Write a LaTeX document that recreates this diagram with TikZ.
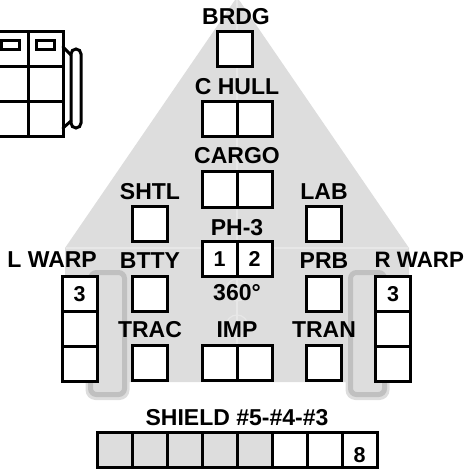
\documentclass[tikz,border=0pt]{standalone}
\usepackage{fontspec}
\setmainfont{Liberation Sans}
\definecolor{bg}{RGB}{221,221,221}
\definecolor{bgline}{RGB}{231,231,231}
\definecolor{trk}{RGB}{192,192,192}
\begin{document}
\begin{tikzpicture}[x=1pt,y=-1pt,
  cell/.style={draw=black,line width=3pt,fill=white,minimum width=35pt,minimum height=35pt,inner sep=0pt,outer sep=0pt},
  gcell/.style={cell,fill=bg},
  lbl/.style={font=\fontsize{23}{25}\selectfont\bfseries,inner sep=0pt,anchor=base},
  dig/.style={font=\fontsize{21.5}{22}\selectfont\bfseries,inner sep=0pt,anchor=base},
  track/.style={draw=trk,line width=5pt,fill=bg,rounded corners=6pt},
  halo/.style={fill=bg,rounded corners=10pt},
  icon/.style={draw=black,line width=3pt}]
\path[use as bounding box,clip] (0,0) rectangle (466,470);
% background hull
\fill[bg] (237,-3) -- (409,248) -- (409,382) -- (65,382) -- (65,248) -- cycle;
\draw[bgline,line width=1.5pt] (237,0) -- (237,382);
\draw[bgline,line width=1.5pt] (66,248) -- (408,248);
\draw[bgline,line width=1.2pt] (237,290) circle (11);
\draw[bgline,line width=1.2pt] (237,326) circle (11);
% warp tracks
\fill[halo] (85.5,267.5) rectangle (129.5,400);
\draw[track] (90.5,272.5) rectangle (124.5,394.5);
\fill[halo] (345.5,267.5) rectangle (389.5,400);
\draw[track] (350.5,272.5) rectangle (384.5,394.5);
% top-left icon
\node[cell] (i1) at (10.5,49.5) {};
\node[cell] (i2) at (45.5,49.5) {};
\node[cell] (i3) at (10.5,84.5) {};
\node[cell] (i4) at (45.5,84.5) {};
\node[cell] (i5) at (10.5,119.5) {};
\node[cell] (i6) at (45.5,119.5) {};
\node[icon,minimum width=18pt,minimum height=9pt,inner sep=0pt] (s1) at (10.5,45) {};
\node[icon,minimum width=18pt,minimum height=9pt,inner sep=0pt] (s2) at (45.5,45) {};
\node[icon,rounded corners=5pt,minimum width=10pt,minimum height=79pt,inner sep=0pt] (pod) at (76,88.5) {};
\coordinate (pa) at (63,47);
\coordinate (pb) at (63,128);
\coordinate (pc) at (71,55);
\coordinate (pd) at (71,121);
\draw[icon,line cap=round] (pa) -- (pc);
\draw[icon,line cap=round] (pb) -- (pd);
% centre column
\node[cell] (brdg) at (235,49.5) {};
\node[cell] (ch1) at (219.5,119.5) {};
\node[cell] (ch2) at (254.5,119.5) {};
\node[cell] (cg1) at (219.5,189.5) {};
\node[cell] (cg2) at (254.5,189.5) {};
\node[cell] (ph1) at (219.5,258.5) {};
\node[cell] (ph2) at (254.5,258.5) {};
\node[cell] (im1) at (219.5,362.5) {};
\node[cell] (im2) at (254.5,362.5) {};
% side columns
\node[cell] (shtl) at (149.5,223.5) {};
\node[cell] (btty) at (149.5,293.5) {};
\node[cell] (trac) at (149.5,362.5) {};
\node[cell] (lab) at (324,223.5) {};
\node[cell] (prb) at (324,293.5) {};
\node[cell] (tran) at (324,362.5) {};
% warps
\node[cell] (lw1) at (79.5,293.5) {};
\node[cell] (lw2) at (79.5,328.5) {};
\node[cell] (lw3) at (79.5,363.5) {};
\node[cell] (rw1) at (393,293.5) {};
\node[cell] (rw2) at (393,328.5) {};
\node[cell] (rw3) at (393,363.5) {};
% shield
\foreach \k in {0,...,4} {\node[gcell] (sh\k) at (114.5+35*\k,450) {};}
\node[cell] (sh5) at (289.5,450) {};
\node[cell] (sh6) at (324.5,450) {};
\node[cell] (sh7) at (359.5,450) {};
% digits
\node[dig] (d1) at (219.5,266.5) {1};
\node[dig] (d2) at (254.5,266.5) {2};
\node[dig] (d3l) at (79.5,301) {3};
\node[dig] (d3r) at (393,301) {3};
\node[dig] (d8) at (359.5,462) {8};
% labels
\node[lbl] (tbrdg) at (236,25) {BRDG};
\node[lbl] (tch) at (237,94.5) {C HULL};
\node[lbl] (tcg) at (237,164) {CARGO};
\node[lbl] (tshtl) at (150,199) {SHTL};
\node[lbl] (tlab) at (324,199) {LAB};
\node[lbl] (tph) at (237,235) {PH-3};
\node[lbl] (tbtty) at (150,268) {BTTY};
\node[lbl] (tprb) at (324,268) {PRB};
\node[lbl,anchor=base east] (tlw) at (97,267.5) {L WARP};
\node[lbl,anchor=base west,font=\fontsize{22.3}{24}\selectfont\bfseries] (trw) at (374.5,267.5) {R WARP};
\node[lbl] (t360) at (237,300) {360°};
\node[lbl] (ttrac) at (150,337) {TRAC};
\node[lbl] (timp) at (237,337) {IMP};
\node[lbl] (ttran) at (324,337) {TRAN};
\node[lbl] (tsh) at (237,425) {SHIELD \#5-\#4-\#3};
\end{tikzpicture}
\end{document}
